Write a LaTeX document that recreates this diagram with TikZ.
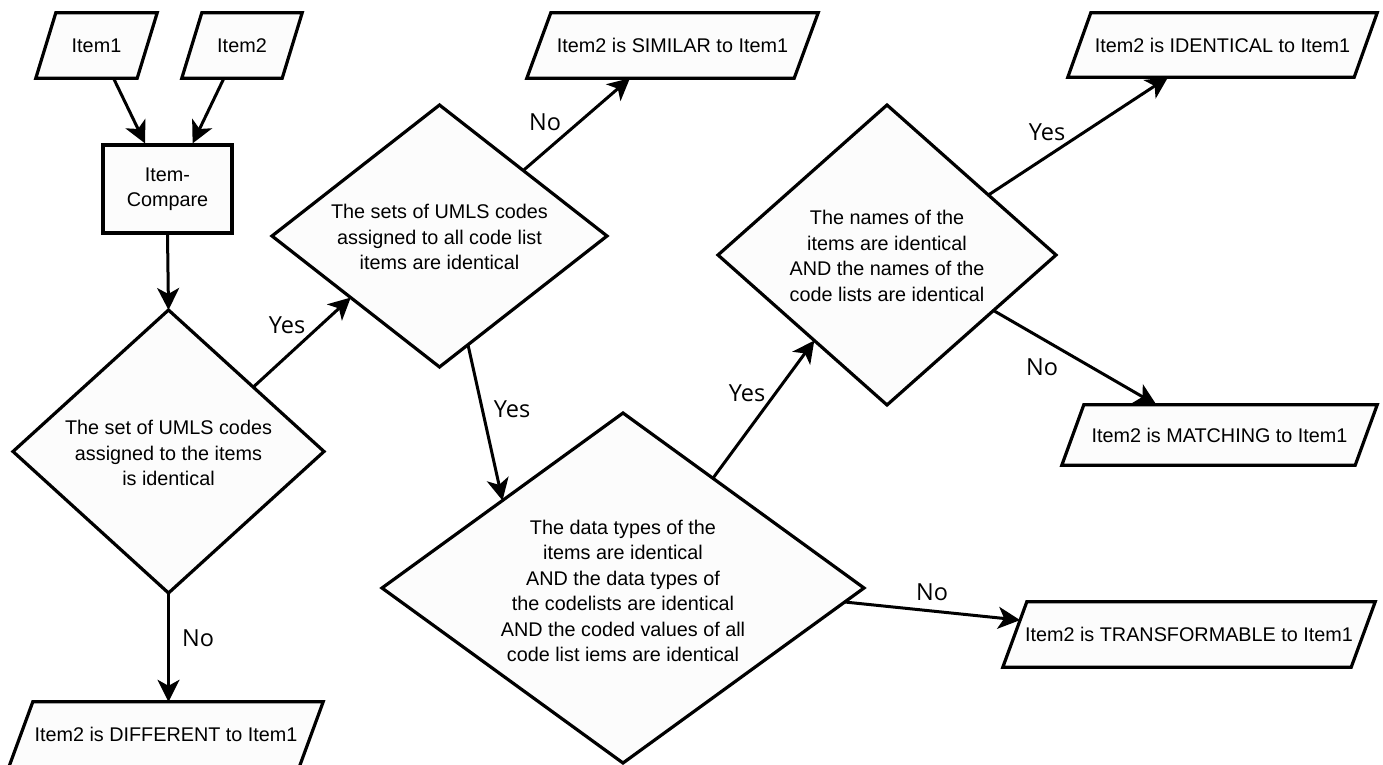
\documentclass[tikz,border=0pt]{standalone}
\usepackage{fontspec}
\setmainfont{Liberation Sans}
\newfontfamily\lblfont{Open Sans}
\usetikzlibrary{shapes.geometric,arrows.meta,calc}
\definecolor{shapefill}{HTML}{FCFCFC}
\pgfdeclarelayer{bg}
\pgfsetlayers{bg,main}
\tikzset{
  shp/.style={draw=black, line width=3.2pt, fill=shapefill, line join=miter},
  boxtext/.style={font=\fontsize{19.8}{25.5}\selectfont, align=center, inner sep=0pt},
  pbox/.style={boxtext, minimum height=65pt},
  dia/.style={shp, shape=diamond, inner sep=0pt, outer sep=0pt},
  conn/.style={line width=3pt, -{Stealth[length=22pt,width=22pt,inset=6pt]}},
  lbl/.style={font=\lblfont\fontsize{23.5}{27}\selectfont, inner sep=0pt},
}
\newcommand{\paradraw}[2]{%
  \begin{pgfonlayer}{bg}
  \draw[shp] (#1.south west) -- ([xshift=-#2pt]#1.south east) -- (#1.north east) -- ([xshift=#2pt]#1.north west) -- cycle;
  \end{pgfonlayer}}
\begin{document}
\begin{tikzpicture}[x=1pt,y=-1pt]
\useasboundingbox (0,0) rectangle (1383,765);

% parallelogram nodes
\node[pbox, minimum width=121pt] (i1) at (96.5,45.5) {Item1};
\node[pbox, minimum width=120pt] (i2) at (242,45.5) {Item2};
\node[pbox, minimum width=291pt] (sim) at (672.5,45.5) {Item2 is SIMILAR to Item1};
\node[pbox, minimum width=309pt, minimum height=64pt] (idt) at (1222.5,45) {Item2 is IDENTICAL to Item1};
\node[pbox, minimum width=315pt, minimum height=60pt] (mat) at (1219.5,435) {Item2 is MATCHING to Item1};
\node[pbox, minimum width=372pt] (tr) at (1189,634.5) {Item2 is TRANSFORMABLE to Item1};
\node[pbox, minimum width=314pt] (dif) at (166,734.5) {Item2 is DIFFERENT to Item1};
\paradraw{i1}{20}
\paradraw{i2}{20}
\paradraw{sim}{24}
\paradraw{idt}{23}
\paradraw{mat}{22}
\paradraw{tr}{24}
\paradraw{dif}{24}

% process box
\node[shp, boxtext, minimum width=129pt, minimum height=88pt] (ic) at (167.5,189) {Item-\\Compare};

% decisions
\node[dia, minimum width=311pt, minimum height=283pt] (d1) at (168.5,451.5) {};
\node[boxtext] (d1t) at (168.5,453) {The set of UMLS codes\\assigned to the items\\is identical};
\node[dia, minimum width=335pt, minimum height=262pt] (d2) at (439.5,236) {};
\node[boxtext] (d2t) at (439.5,237) {The sets of UMLS codes\\assigned to all code list\\items are identical};
\node[dia, minimum width=482pt, minimum height=350pt] (d3) at (623,588) {};
\node[boxtext] (d3t) at (623,591) {The data types of the\\items are identical\\AND the data types of\\the codelists are identical\\AND the coded values of all\\code list iems are identical};
\node[dia, minimum width=338pt, minimum height=300pt] (d4) at (887,255) {};
\node[boxtext] (d4t) at (887,256) {The names of the\\items are identical\\AND the names of the\\code lists are identical};

% connectors
\draw[conn] ($(i1.south west)!0.64!(i1.south east)$) -- ($(ic.north west)!0.33!(ic.north east)$);
\draw[conn] ($(i2.south west)!0.35!(i2.south east)$) -- ($(ic.north west)!0.69!(ic.north east)$);
\draw[conn] (ic.south) -- (d1.north);
\draw[conn] ($(d1.north)!0.545!(d1.east)$) -- ($(d2.west)!0.47!(d2.south)$);
\draw[conn] (d1.south) -- (d1.south |- dif.north);
\draw[conn] ($(d2.north)!0.5!(d2.east)$) -- ($(sim.south west)!0.354!(sim.south east)$);
\draw[conn] ($(d2.south)!0.17!(d2.east)$) -- ($(d3.west)!0.5!(d3.north)$);
\draw[conn] ($(d3.north)!0.373!(d3.east)$) -- ($(d4.west)!0.57!(d4.south)$);
\draw[conn] ($(d4.north)!0.6!(d4.east)$) -- ($(idt.south west)!0.324!(idt.south east)$);
\draw[conn] ($(d4.south)!0.63!(d4.east)$) -- ($(mat.north west)!0.30!(mat.north east)$);
\draw[conn] ($(d3.east)!0.08!(d3.south)$) -- ($(tr.south west)!0.72!([xshift=24pt]tr.north west)$);

% labels
\node[lbl] (l1) at (287,325) {Yes};
\node[lbl] (l2) at (198,638) {No};
\node[lbl] (l3) at (545,122) {No};
\node[lbl] (l4) at (512,409) {Yes};
\node[lbl] (l5) at (747,393) {Yes};
\node[lbl] (l6) at (1047,132) {Yes};
\node[lbl] (l7) at (1042,367) {No};
\node[lbl] (l8) at (932,592) {No};
\end{tikzpicture}
\end{document}
